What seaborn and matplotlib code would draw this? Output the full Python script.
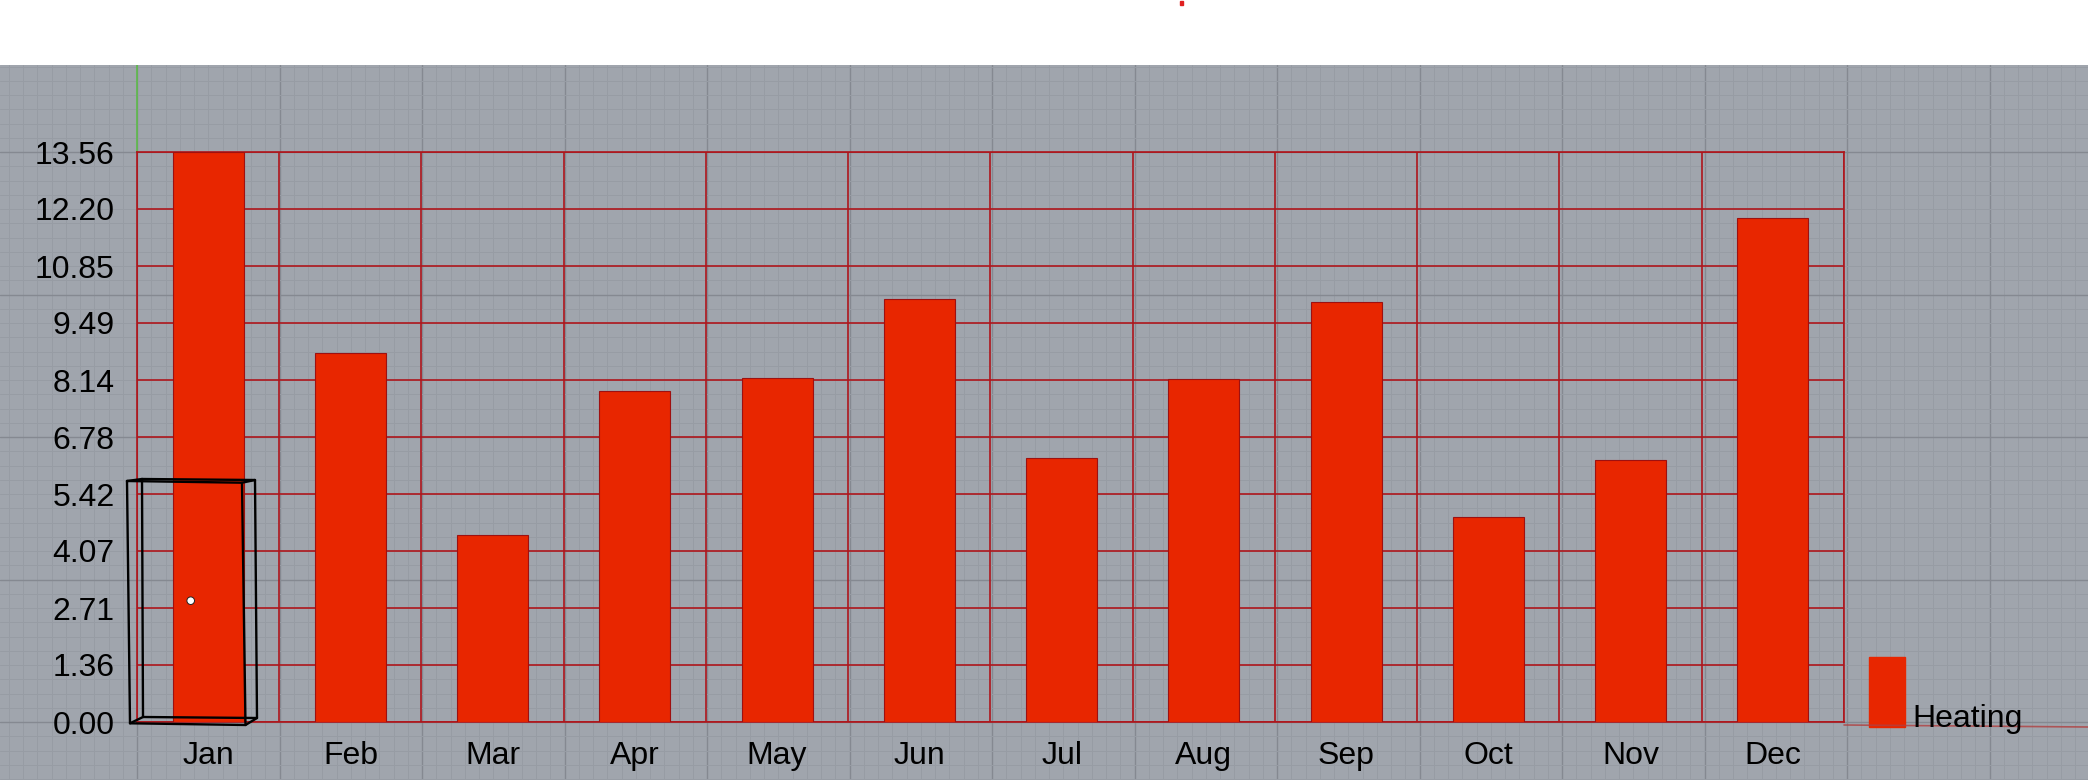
import numpy as np
import matplotlib
matplotlib.use("Agg")
import matplotlib.pyplot as plt
import seaborn as sns
from matplotlib.patches import Rectangle, Circle

# monthly heating values
months = ["Jan", "Feb", "Mar", "Apr", "May", "Jun",
          "Jul", "Aug", "Sep", "Oct", "Nov", "Dec"]
heating = [13.56, 8.77, 4.44, 7.87, 8.18, 10.07,
           6.29, 8.16, 9.99, 4.87, 6.23, 11.99]
series_name = "Heating"

W, H = 2088, 780
BAR_RED = "#E82600"
GRID_RED = "#AE161C"
BG_GREY = "#A0A5AD"

sns.set_theme(style="white")
plt.rcParams["font.family"] = ["Liberation Sans", "DejaVu Sans"]

fig = plt.figure(figsize=(W / 100, H / 100), dpi=100, facecolor="white")

# --- Rhino-style viewport background, in pixel coords ---
bg = fig.add_axes([0, 0, 1, (H - 65) / H])
bg.set_xlim(0, W)
bg.set_ylim(H, 65)
bg.axis("off")
bg.add_patch(Rectangle((0, 65), W, H - 65, color=BG_GREY, zorder=0))
step = 142.5 / 10
for k in range(-20, 160):
    x = 137 + k * step
    if 0 <= x <= W:
        major = k % 10 == 0
        bg.axvline(x, color="#858991" if major else "#979CA4",
                   lw=1.0 if major else 0.7, zorder=1)
for k in range(-10, 60):
    y = 152 + k * step
    if 65 <= y <= H:
        major = k % 10 == 0
        bg.axhline(y, color="#858991" if major else "#979CA4",
                   lw=1.0 if major else 0.7, zorder=1)
bg.plot([137, 137], [65, 152], color="#5DBB4A", lw=1.2, zorder=2)

# --- the chart ---
ax = fig.add_axes([137 / W, (H - 722) / H, (1844 - 137) / W, 570 / H])
ax.set_facecolor("none")
sns.barplot(x=months, y=heating, color=BAR_RED, saturation=1, width=0.5,
            edgecolor="#9E1010", linewidth=0.8, ax=ax, zorder=3)

ymax = max(heating)
ax.set_ylim(0, ymax)
ax.set_xlim(-0.5, len(months) - 0.5)
yticks = np.linspace(0, ymax, 11)
ax.set_yticks(yticks)
ax.set_yticklabels([f"{v:.2f}" for v in yticks])
ax.set_xticks(np.arange(-0.5, len(months), 1), minor=True)
ax.set_axisbelow(True)
ax.grid(axis="y", which="major", color=GRID_RED, lw=1.2)
ax.grid(axis="x", which="minor", color=GRID_RED, lw=1.2)
ax.grid(axis="x", which="major", visible=False)
ax.tick_params(axis="y", which="both", length=0, pad=16, labelsize=23, labelcolor="black")
ax.tick_params(axis="x", which="both", length=0, pad=14, labelsize=23, labelcolor="black")
ax.set_xlabel("")
ax.set_ylabel("")
for s in ax.spines.values():
    s.set_color(GRID_RED)
    s.set_linewidth(1.2)

# --- overlay: legend swatch, selection box, viewport marks ---
ov = fig.add_axes([0, 0, 1, 1], zorder=5)
ov.set_xlim(0, W)
ov.set_ylim(H, 0)
ov.axis("off")
ov.patch.set_alpha(0)

ov.plot([1844, W], [725, 727], color="#B04040", lw=1.2, alpha=0.8)
ov.add_patch(Rectangle((1869, 657), 36, 70, color=BAR_RED))
ov.text(1912, 726.5, series_name, fontsize=23, color="black", va="baseline", ha="left")

box_lines = [
    [(127, 481), (242, 482.7), (245.5, 725), (130, 723.3), (127, 481)],
    [(142, 479), (255, 480), (257, 718), (143, 717), (142, 479)],
    [(127, 481), (142, 479)],
    [(242, 482.7), (255, 480)],
    [(245.5, 725), (257, 718)],
    [(130, 723.3), (143, 717)],
]
for seg in box_lines:
    xs, ys = zip(*seg)
    ov.plot(xs, ys, color="black", lw=1.7, solid_capstyle="round")
ov.add_patch(Circle((190.7, 600.7), 3.8, facecolor="white", edgecolor="#222222", lw=0.7))
ov.add_patch(Rectangle((1180, 1), 3, 4, color="#E02020"))

fig.savefig("out.png", dpi=100, facecolor="white")
